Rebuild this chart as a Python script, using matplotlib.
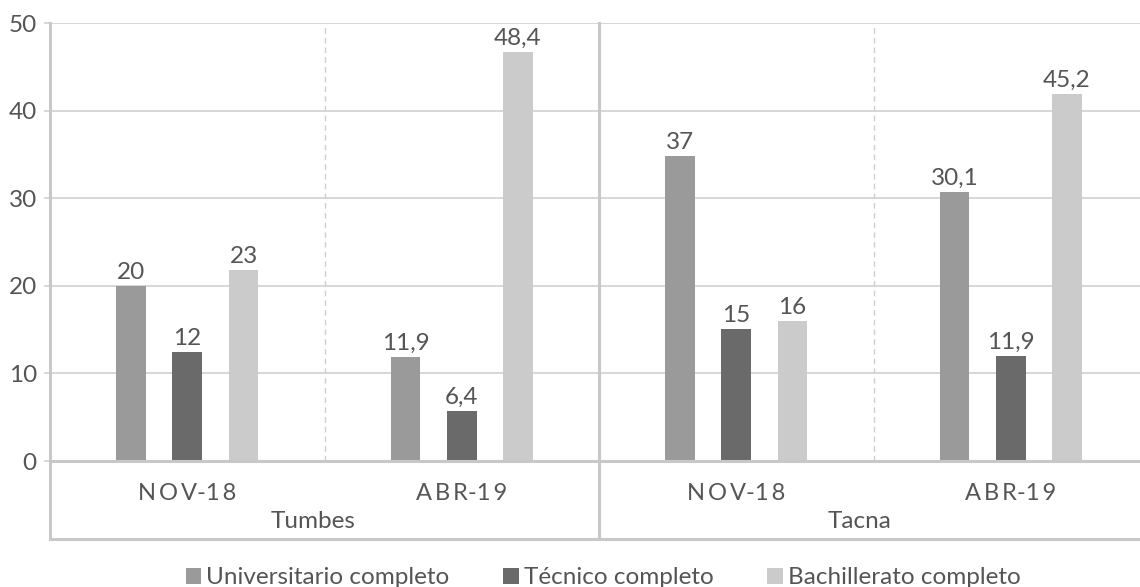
import matplotlib
matplotlib.use("Agg")
import matplotlib.pyplot as plt
from matplotlib.patches import Patch
import numpy as np

plt.rcParams["font.family"] = ["Lato", "DejaVu Sans"]

# datos
periods = ["N\u2009O\u2009V-1\u20098", "A\u2009B\u2009R-1\u20099",
           "N\u2009O\u2009V-1\u20098", "A\u2009B\u2009R-1\u20099"]
regions = ["Tumbes", "Tacna"]
series = ["Universitario completo", "Técnico completo", "Bachillerato completo"]

# alturas de las barras tal como se ven en el gráfico
universitario = [20.0, 11.9, 34.8, 30.7]
tecnico = [12.5, 5.7, 15.05, 12.0]
bachillerato = [21.8, 46.7, 16.0, 41.9]

# etiquetas de datos impresas sobre las barras
universitario_lbl = ["20", "11,9", "37", "30,1"]
tecnico_lbl = ["12", "6,4", "15", "11,9"]
bachillerato_lbl = ["23", "48,4", "16", "45,2"]

colors = ["#9a9a9a", "#6a6a6a", "#cbcbcb"]
text_color = "#555555"
grid_color = "#d4d4d4"
axis_color = "#c8c8c8"
fs = 17.5

fig = plt.figure(figsize=(11.4, 5.87), dpi=100)
ax = fig.add_axes([50 / 1140, 126 / 587, 1098 / 1140, 438 / 587])

x = np.arange(len(periods))
width = 0.109
offsets = [-0.205, 0.0, 0.205]
heights = [universitario, tecnico, bachillerato]
labels = [universitario_lbl, tecnico_lbl, bachillerato_lbl]

for k in range(3):
    bars = ax.bar(x + offsets[k], heights[k], width, color=colors[k], zorder=3)
    for b, lbl in zip(bars, labels[k]):
        ax.annotate(
            lbl,
            (b.get_x() + b.get_width() / 2, b.get_height()),
            xytext=(0, 5),
            textcoords="offset points",
            ha="center",
            va="baseline",
            fontsize=fs,
            color=text_color,
        )

ax.set_xlim(-0.5, 3.5)
ax.set_ylim(0, 50)
ax.set_yticks(range(0, 51, 10))
ax.yaxis.grid(True, color=grid_color, linewidth=1.3, zorder=0)
ax.tick_params(axis="y", direction="out", length=4.5, width=1.3, color=grid_color,
               labelsize=fs, labelcolor=text_color, pad=5)
ax.tick_params(axis="x", length=0, labelbottom=False)

for s in ["top", "right", "left"]:
    ax.spines[s].set_visible(False)
ax.spines["bottom"].set_color(axis_color)
ax.spines["bottom"].set_linewidth(2.2)
ax.spines["bottom"].set_zorder(4)

trans = ax.get_xaxis_transform()
box_bottom = -78 / 438

# lineas discontinuas entre periodos
for xd in [0.5, 2.5]:
    ax.plot([xd, xd], [0, 1], transform=trans, color="#cfcfcf", linewidth=1,
            linestyle=(0, (4, 3)), zorder=1)

# lineas solidas de la tabla de categorias
for xs in [-0.5, 1.5]:
    ax.plot([xs, xs], [box_bottom, 1], transform=trans, color=axis_color,
            linewidth=2.2, clip_on=False, zorder=4)
ax.plot([-0.5, 3.5], [box_bottom, box_bottom], transform=trans, color=axis_color,
        linewidth=2.2, clip_on=False)

# etiquetas del eje x
for i, p in enumerate(periods):
    ax.text(i, -39 / 438, p, transform=trans, ha="center", va="baseline",
            fontsize=fs - 0.5, color=text_color)
for xr, r in zip([0.46, 2.45], regions):
    ax.text(xr, -67 / 438, r, transform=trans, ha="center", va="baseline",
            fontsize=fs, color=text_color)

handles = [Patch(facecolor=c, edgecolor="none") for c in colors]
fig.legend(
    handles,
    series,
    loc="center",
    bbox_to_anchor=(603 / 1140, 9 / 587),
    ncol=3,
    frameon=False,
    fontsize=fs,
    labelcolor=text_color,
    handlelength=0.65,
    handleheight=0.65,
    handletextpad=0.2,
    columnspacing=2.2,
    borderpad=0,
)

fig.savefig("out.png", dpi=100)
